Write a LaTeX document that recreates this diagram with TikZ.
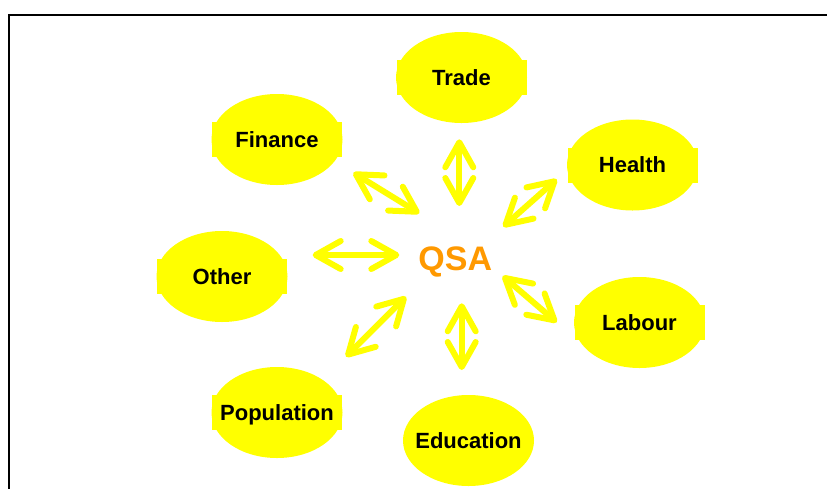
\documentclass[tikz,border=0pt]{standalone}
\usepackage{fontspec}
\setmainfont{Liberation Sans}
\usetikzlibrary{shapes.geometric,arrows.meta,calc,backgrounds}
\definecolor{qsaorange}{RGB}{255,153,0}
\definecolor{bubbleyellow}{RGB}{255,255,0}
\newcommand{\bubbletext}[1]{\makebox[0pt]{#1}}
\tikzset{
  bubble/.style={ellipse, fill=bubbleyellow, minimum width=131pt, minimum height=91pt,
    inner sep=0pt, font=\fontsize{22}{24}\selectfont\bfseries,
    text height=15.8pt, text depth=0pt},
  hub/.style={anchor=base, inner sep=0pt, text=qsaorange,
    font=\fontsize{34}{36}\selectfont\bfseries},
  link/.style={draw=bubbleyellow, line width=6pt,
    {Straight Barb[length=25pt,width=28pt,round]}-{Straight Barb[length=25pt,width=28pt,round]}},
  frameline/.style={draw=black, line width=1.8pt}
}
\begin{document}
\begin{tikzpicture}[x=1pt,y=-1pt]
\useasboundingbox (0,0) rectangle (827,488);
% outer frame (top and left edges)
\draw[frameline] (832,15) -- (9.2,15) -- (9.2,494);

% topic bubbles
\node[bubble] (trade)      at (461.5,77.5)  {\bubbletext{Trade}};
\node[bubble] (finance)    at (277,139.5)   {\bubbletext{Finance}};
\node[bubble] (health)     at (632.5,165)   {\bubbletext{Health}};
\node[bubble] (other)      at (222,276.5)   {\bubbletext{Other}};
\node[bubble] (labour)     at (639.5,322.5) {\bubbletext{Labour}};
\node[bubble] (population) at (277,412.5)   {\bubbletext{Population}};
\node[bubble] (education)  at (468.5,440.5) {\bubbletext{Education}};

% text boxes behind the labels
\begin{scope}[on background layer]
  \foreach \n in {trade,finance,health,other,labour,population}
    \fill[bubbleyellow] ($(\n.center)+(-65,-17.5)$) rectangle ($(\n.center)+(65,17.5)$);
\end{scope}

% central label
\node[hub] (qsa) at (455.3,270.3) {QSA};

% arrow end points
\coordinate (t1) at (459.3,139.3); \coordinate (t2) at (459.3,206);
\coordinate (f1) at (353.3,172.7); \coordinate (f2) at (419.3,213.3);
\coordinate (h1) at (556.7,179.3); \coordinate (h2) at (503.3,226.7);
\coordinate (o1) at (312.7,255);   \coordinate (o2) at (399.3,255);
\coordinate (l1) at (502.7,276);   \coordinate (l2) at (556.7,322.3);
\coordinate (p1) at (406,296.7);   \coordinate (p2) at (346,356.7);
\coordinate (e1) at (461.7,303.3); \coordinate (e2) at (461.7,370);

% two-way links
\draw[link] (t1) -- (t2);
\draw[link] (f1) -- (f2);
\draw[link] (h1) -- (h2);
\draw[link] (o1) -- (o2);
\draw[link] (l1) -- (l2);
\draw[link] (p1) -- (p2);
\draw[link] (e1) -- (e2);
\end{tikzpicture}
\end{document}
